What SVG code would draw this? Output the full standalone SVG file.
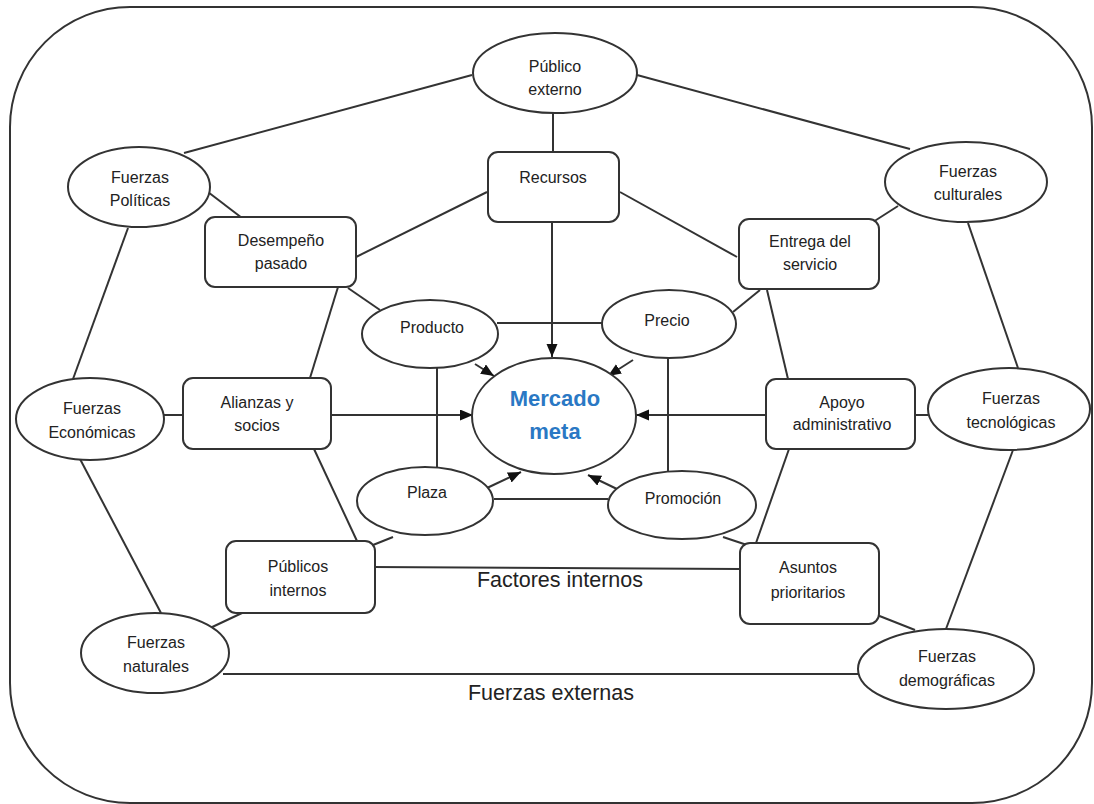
<svg xmlns="http://www.w3.org/2000/svg" width="1094" height="804" viewBox="0 0 1094 804">
<style>
.frame{fill:none;stroke:#333;stroke-width:2}
.n{fill:#fff;stroke:#333;stroke-width:2}
.c{fill:none;stroke:#333;stroke-width:2}
.t{font-family:"Liberation Sans",Arial,sans-serif;font-size:16px;fill:#222;text-anchor:middle}
.m{font-family:"Liberation Sans",Arial,sans-serif;font-size:22px;font-weight:bold;fill:#2a78c4;text-anchor:middle}
.big{font-family:"Liberation Sans",Arial,sans-serif;font-size:21.5px;fill:#222;text-anchor:middle}
</style>
<defs>
<marker id="ah" markerUnits="userSpaceOnUse" markerWidth="14" markerHeight="12" refX="13" refY="5.5" orient="auto">
<path d="M0,0 L13,5.5 L0,11 z" fill="#111"/>
</marker>
</defs>
<rect class="frame" x="10" y="7" width="1082" height="796" rx="120" ry="120"/>
<g id="connectors">
<line class="c" x1="472" y1="75" x2="184" y2="153"/>
<line class="c" x1="637" y1="75" x2="910" y2="149"/>
<line class="c" x1="553" y1="113" x2="553" y2="152"/>
<line class="c" x1="208" y1="192" x2="242" y2="218"/>
<line class="c" x1="128" y1="228" x2="73" y2="379"/>
<line class="c" x1="356" y1="257" x2="487" y2="192"/>
<line class="c" x1="620" y1="192" x2="737" y2="257"/>
<line class="c" x1="873" y1="222" x2="898" y2="206"/>
<line class="c" x1="968" y1="223" x2="1018" y2="368"/>
<line class="c" x1="348" y1="288" x2="380" y2="310"/>
<line class="c" x1="338" y1="287" x2="310" y2="378"/>
<line class="c" x1="760" y1="290" x2="733" y2="312"/>
<line class="c" x1="767" y1="290" x2="788" y2="379"/>
<line class="c" x1="497" y1="323" x2="602" y2="323"/>
<line class="c" x1="437" y1="368" x2="437" y2="467"/>
<line class="c" x1="668" y1="358" x2="668" y2="471"/>
<line class="c" x1="494" y1="499" x2="608" y2="499"/>
<line class="c" x1="164" y1="415" x2="183" y2="415"/>
<line class="c" x1="915" y1="415" x2="928" y2="415"/>
<line class="c" x1="80" y1="459" x2="161" y2="613"/>
<line class="c" x1="314" y1="449" x2="357" y2="541"/>
<line class="c" x1="393" y1="537" x2="373" y2="545"/>
<line class="c" x1="372" y1="567" x2="740" y2="569"/>
<line class="c" x1="723" y1="537" x2="747" y2="545"/>
<line class="c" x1="789" y1="449" x2="756" y2="543"/>
<line class="c" x1="1013" y1="450" x2="946" y2="629"/>
<line class="c" x1="242" y1="613" x2="208" y2="629"/>
<line class="c" x1="877" y1="615" x2="915" y2="630"/>
<line class="c" x1="223" y1="674" x2="858" y2="674"/>
<line class="c" x1="552" y1="222" x2="552" y2="357" marker-end="url(#ah)"/>
<line class="c" x1="331" y1="415" x2="473" y2="415" marker-end="url(#ah)"/>
<line class="c" x1="766" y1="415" x2="636" y2="415" marker-end="url(#ah)"/>
<line class="c" x1="475" y1="364" x2="494" y2="376" marker-end="url(#ah)"/>
<line class="c" x1="633" y1="360" x2="608" y2="376" marker-end="url(#ah)"/>
<line class="c" x1="487" y1="488" x2="521" y2="472" marker-end="url(#ah)"/>
<line class="c" x1="619" y1="490" x2="588" y2="475" marker-end="url(#ah)"/>
</g>
<g id="publico-externo"><ellipse class="n" cx="555" cy="73" rx="82" ry="40"/><text class="t" x="555" y="72">Público</text><text class="t" x="555" y="95">externo</text></g>
<g id="recursos"><rect class="n" x="488" y="152" width="131" height="70" rx="10"/><text class="t" x="553" y="183">Recursos</text></g>
<g id="fuerzas-politicas"><ellipse class="n" cx="139" cy="187" rx="71" ry="40"/><text class="t" x="140" y="183">Fuerzas</text><text class="t" x="140" y="206">Políticas</text></g>
<g id="desempeno"><rect class="n" x="205" y="217" width="151" height="70" rx="10"/><text class="t" x="281" y="246">Desempeño</text><text class="t" x="281" y="269">pasado</text></g>
<g id="entrega"><rect class="n" x="739" y="219" width="140" height="70" rx="10"/><text class="t" x="810" y="247">Entrega del</text><text class="t" x="810" y="270">servicio</text></g>
<g id="fuerzas-culturales"><ellipse class="n" cx="966" cy="182" rx="81" ry="40"/><text class="t" x="968" y="177">Fuerzas</text><text class="t" x="968" y="200">culturales</text></g>
<g id="producto"><ellipse class="n" cx="430" cy="334" rx="68" ry="34"/><text class="t" x="432" y="333">Producto</text></g>
<g id="precio"><ellipse class="n" cx="669" cy="324" rx="67" ry="34"/><text class="t" x="667" y="326">Precio</text></g>
<g id="alianzas"><rect class="n" x="183" y="378" width="148" height="71" rx="10"/><text class="t" x="257" y="408">Alianzas y</text><text class="t" x="257" y="431">socios</text></g>
<g id="fuerzas-economicas"><ellipse class="n" cx="90" cy="419" rx="74" ry="41"/><text class="t" x="92" y="414">Fuerzas</text><text class="t" x="92" y="438">Económicas</text></g>
<g id="mercado-meta"><ellipse class="n" cx="554" cy="416" rx="82" ry="58"/><text class="m" x="555" y="406">Mercado</text><text class="m" x="555" y="439">meta</text></g>
<g id="apoyo"><rect class="n" x="766" y="379" width="149" height="70" rx="10"/><text class="t" x="842" y="408">Apoyo</text><text class="t" x="842" y="430">administrativo</text></g>
<g id="fuerzas-tecnologicas"><ellipse class="n" cx="1009" cy="409" rx="81" ry="41"/><text class="t" x="1011" y="404">Fuerzas</text><text class="t" x="1011" y="428">tecnológicas</text></g>
<g id="plaza"><ellipse class="n" cx="425" cy="501" rx="68" ry="34"/><text class="t" x="427" y="498">Plaza</text></g>
<g id="promocion"><ellipse class="n" cx="682" cy="505" rx="74" ry="34"/><text class="t" x="683" y="504">Promoción</text></g>
<g id="publicos-internos"><rect class="n" x="226" y="541" width="149" height="72" rx="10"/><text class="t" x="298" y="572">Públicos</text><text class="t" x="298" y="596">internos</text></g>
<g id="asuntos"><rect class="n" x="740" y="543" width="139" height="81" rx="10"/><text class="t" x="808" y="573">Asuntos</text><text class="t" x="808" y="598">prioritarios</text></g>
<g id="fuerzas-naturales"><ellipse class="n" cx="155" cy="653" rx="74" ry="40"/><text class="t" x="156" y="648">Fuerzas</text><text class="t" x="156" y="672">naturales</text></g>
<g id="fuerzas-demograficas"><ellipse class="n" cx="946" cy="669" rx="88" ry="40"/><text class="t" x="947" y="662">Fuerzas</text><text class="t" x="947" y="686">demográficas</text></g>
<g id="labels"><text class="big" x="560" y="587">Factores internos</text><text class="big" x="551" y="700">Fuerzas externas</text></g>
</svg>
